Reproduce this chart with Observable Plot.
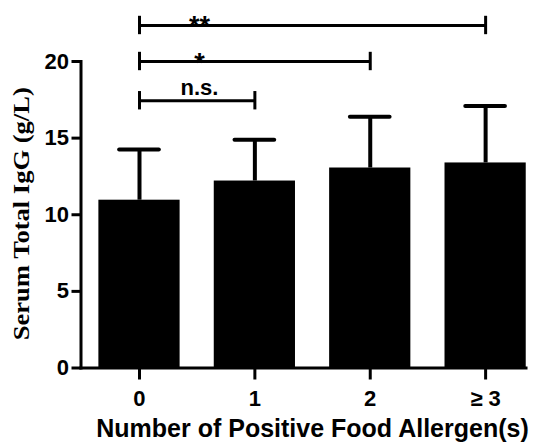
<!DOCTYPE html>
<html><head><meta charset="utf-8">
<script src="https://cdn.jsdelivr.net/npm/d3@7"></script>
<script src="https://cdn.jsdelivr.net/npm/@observablehq/plot@0.6"></script>
<style>body{margin:0;background:#fff}</style>
</head><body><div id="chart"></div>
<script>
const categories = ["0", "1", "2", "≥ 3"];
const means = [10.95, 12.2, 13.05, 13.38];
const sds = [3.3, 2.7, 3.35, 3.72];
const yTicks = [0, 5, 10, 15, 20];
const bracketFrom = [0, 0, 0];
const bracketTo = [1, 2, 3];
const bracketHeights = [17.44, 20.0, 22.35];
const bracketLabels = ["n.s.", "*", "**"];
const yTitle = "Serum Total IgG (g/L)";
const xTitle = "Number of Positive Food Allergen(s)";

const bars = categories.map((c, i) => ({i, cat: c, mean: means[i], top: means[i] + sds[i]}));
const brackets = bracketLabels.map((l, k) => ({from: bracketFrom[k], to: bracketTo[k], h: bracketHeights[k], label: l}));
const bracketEnds = brackets.flatMap(b => [{x: b.from, h: b.h}, {x: b.to, h: b.h}]);

const font = "Liberation Sans, Arial, sans-serif";
const chart = Plot.plot({
  width: 541,
  height: 442,
  marginLeft: 80.5,
  marginRight: 15.5,
  marginTop: 61,
  marginBottom: 74.5,
  style: {fontFamily: font, fontWeight: "bold", color: "black", background: "white"},
  x: {type: "linear", domain: [-0.507, 3.35]},
  y: {domain: [0, 20]},
  marks: [
    Plot.rect(bars, {x1: d => d.i - 0.352, x2: d => d.i + 0.352, y1: 0, y2: "mean", fill: "black"}),
    Plot.ruleX(bars, {x: "i", y1: "mean", y2: "top", stroke: "black", strokeWidth: 4}),
    Plot.ruleY(bars, {y: "top", x1: d => d.i - 0.172, x2: d => d.i + 0.172, stroke: "black", strokeWidth: 4, strokeLinecap: "round"}),
    Plot.frame({anchor: "left", stroke: "black", strokeWidth: 3, strokeLinecap: "square"}),
    Plot.frame({anchor: "bottom", stroke: "black", strokeWidth: 3, strokeLinecap: "square"}),
    Plot.axisY({ticks: yTicks, tickSize: 9, tickPadding: 3, fontSize: 22, strokeWidth: 3, label: null}),
    Plot.axisX({ticks: [0, 1, 2, 3], tickFormat: d => categories[d], tickSize: 12, tickPadding: 10, fontSize: 22, strokeWidth: 3, label: null}),
    Plot.ruleY(brackets, {y: "h", x1: "from", x2: "to", stroke: "black", strokeWidth: 3}),
    Plot.ruleX(bracketEnds, {x: "x", y1: d => d.h - 0.6, y2: d => d.h + 0.6, stroke: "black", strokeWidth: 3}),
    Plot.text(brackets.filter(b => b.label === "n.s."), {x: 0.52, y: "h", text: "label", fontSize: 22, lineAnchor: "bottom", dy: -6, fill: "black"}),
    Plot.text(brackets.filter(b => b.label !== "n.s."), {x: 0.52, y: "h", text: "label", fontSize: 27, lineAnchor: "bottom", dy: 10, fill: "black"}),
    Plot.text([xTitle], {frameAnchor: "bottom", text: d => d, fontSize: 25, lineAnchor: "bottom", dx: 9, dy: 69, fill: "black"}),
    Plot.text([yTitle], {frameAnchor: "left", text: d => d, rotate: -90, textAnchor: "middle", fontSize: 23, fontFamily: "Liberation Serif, Times New Roman, serif", lineAnchor: "bottom", dx: -52.5, dy: -1, fill: "black"})
  ]
});
d3.select(chart).selectAll("text").filter(function() { return this.textContent === yTitle; })
  .attr("textLength", 253).attr("lengthAdjust", "spacingAndGlyphs");
document.getElementById("chart").appendChild(chart);
</script>
</body></html>
